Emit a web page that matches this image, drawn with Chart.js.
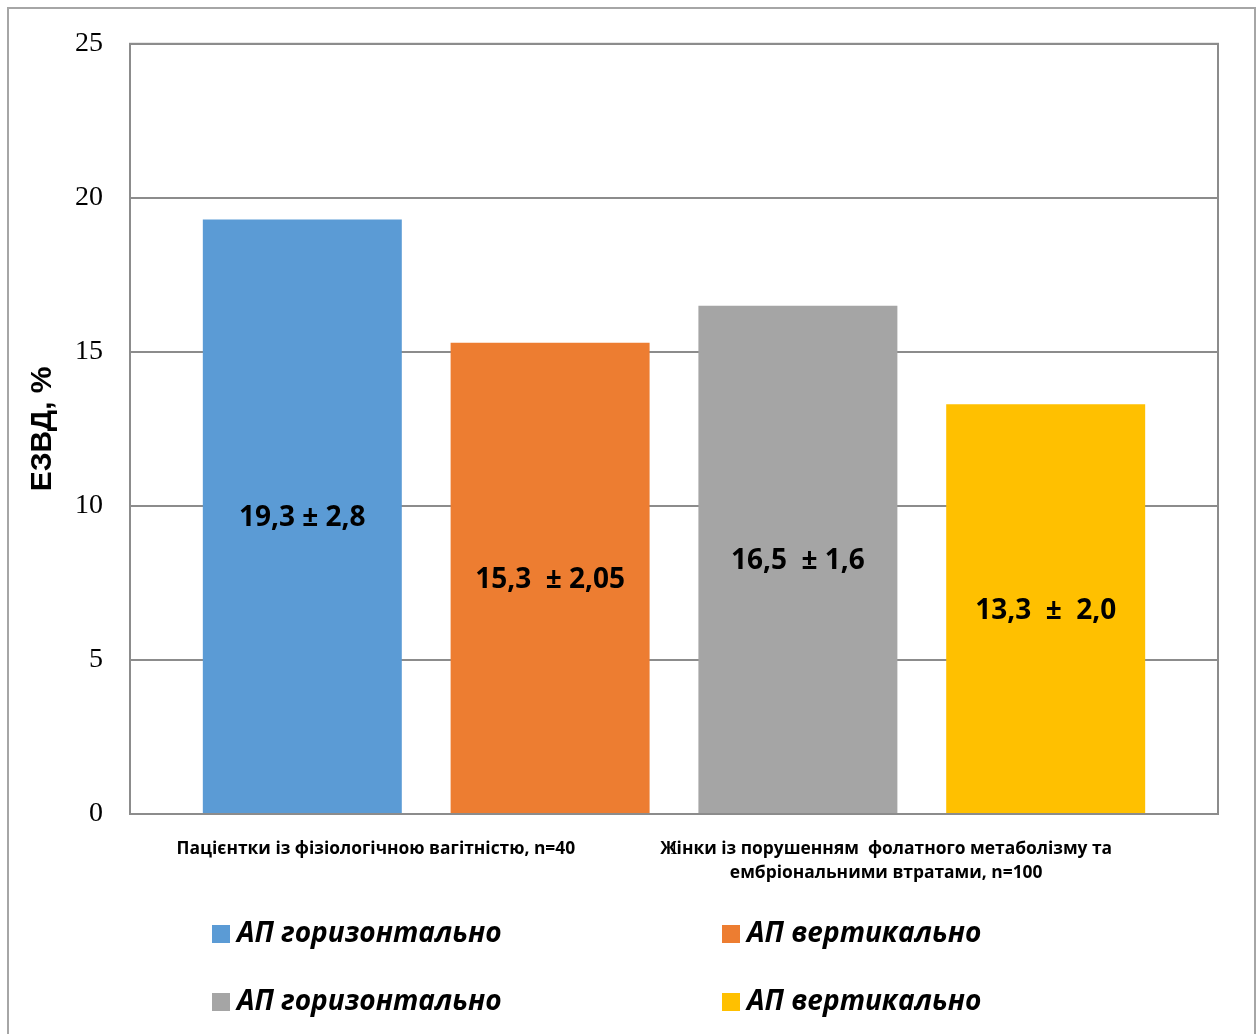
<!DOCTYPE html>
<html>
<head>
<meta charset="utf-8">
<script src="https://cdn.jsdelivr.net/npm/chart.js@4"></script>
<style>
  html, body { margin: 0; padding: 0; background: #fff; }
  #wrap { position: relative; width: 1260px; height: 1034px; overflow: hidden; }
  #frame { position: absolute; left: 7px; top: 7px; width: 1249px; height: 1040px; border: 2px solid #a6a6a6; box-sizing: border-box; }
  canvas { position: absolute; left: 0; top: 0; }
</style>
</head>
<body>
<div id="wrap">
  <div id="frame"></div>
  <canvas id="myChart" width="1260" height="1034"></canvas>
</div>
<script>
// data
var categories = ["1"];
var seriesNames = ["АП горизонтально", "АП вертикально", "АП горизонтально", "АП вертикально"];
var values = [19.3, 15.3, 16.5, 13.3];
var colors = ["#5B9BD5", "#ED7D31", "#A5A5A5", "#FFC000"];
var valueLabels = ["19,3 ± 2,8", "15,3  ± 2,05", "16,5  ± 1,6", "13,3  ±  2,0"];
var labelLevels = [9.6, 7.6, 8.2, 6.6];   // where the text boxes sit, in axis units
var yTicks = [0, 5, 10, 15, 20, 25];
var groupLabels = [
  ["Пацієнтки із фізіологічною вагітністю, n=40"],
  ["Жінки із порушенням  фолатного метаболізму та", "ембріональними втратами, n=100"]
];

var datasets = [];
for (var i = 0; i < values.length; i++) {
  datasets.push({
    label: seriesNames[i],
    data: [values[i]],
    backgroundColor: colors[i],
    borderWidth: 0
  });
}

var extras = {
  id: "extras",
  afterDraw: function (chart) {
    var ctx = chart.ctx;
    var area = chart.chartArea;
    var y = chart.scales.y;
    ctx.save();

    // plot area frame
    ctx.strokeStyle = "#8c8c8c";
    ctx.lineWidth = 2;
    ctx.strokeRect(area.left, area.top, area.right - area.left, area.bottom - area.top);

    // value text inside bars
    ctx.fillStyle = "#000";
    ctx.font = "bold 28px 'Open Sans'";
    ctx.textAlign = "center";
    ctx.textBaseline = "middle";
    for (var i = 0; i < valueLabels.length; i++) {
      var bar = chart.getDatasetMeta(i).data[0];
      ctx.fillText(valueLabels[i], bar.x, y.getPixelForValue(labelLevels[i]));
    }

    // group captions under the axis
    ctx.font = "bold 17.4px 'Open Sans'";
    var centers = [0.226, 0.695];
    for (var g = 0; g < groupLabels.length; g++) {
      var cx = area.left + (area.right - area.left) * centers[g];
      for (var l = 0; l < groupLabels[g].length; l++) {
        ctx.fillText(groupLabels[g][l], cx, area.bottom + 35 + l * 24);
      }
    }

    // legend, two columns
    var cols = [212, 722];
    var rows = [934, 1002];
    ctx.font = "italic bold 28px 'Open Sans'";
    ctx.textAlign = "left";
    for (var k = 0; k < chart.data.datasets.length; k++) {
      var ds = chart.data.datasets[k];
      var lx = cols[k % 2];
      var ly = rows[Math.floor(k / 2)];
      ctx.fillStyle = ds.backgroundColor;
      ctx.fillRect(lx, ly - 9, 18, 18);
      ctx.fillStyle = "#000";
      ctx.fillText(ds.label, lx + 25, ly);
    }
    ctx.restore();
  }
};

var ctx = document.getElementById("myChart");
var myChart = new Chart(ctx, {
  type: "bar",
  data: {
    labels: categories,
    datasets: datasets
  },
  options: {
    responsive: false,
    animation: false,
    categoryPercentage: 0.911,
    barPercentage: 0.803,
    layout: { padding: { top: 42, right: 42, left: 0, bottom: 0 } },
    plugins: {
      legend: { display: false },
      tooltip: { enabled: false }
    },
    scales: {
      y: {
        min: 0,
        max: 25,
        afterBuildTicks: function (scale) {
          scale.ticks = yTicks.map(function (v) { return { value: v }; });
        },
        afterFit: function (scale) { scale.width = 130; },
        ticks: {
          color: "#000",
          padding: 27,
          font: { family: "'Liberation Serif', serif", size: 28 }
        },
        grid: { color: "#8c8c8c", lineWidth: 2, drawTicks: false },
        border: { display: true, color: "#8c8c8c", width: 2 },
        title: {
          display: true,
          text: "ЕЗВД, %",
          color: "#000",
          font: { family: "'Liberation Sans', Arial, sans-serif", size: 30, weight: "bold" },
          padding: { top: 25, bottom: 0 }
        }
      },
      x: {
        afterFit: function (scale) { scale.height = 220; },
        ticks: {
          color: "#000",
          padding: 24,
          font: { family: "'Liberation Serif', serif", size: 19 }
        },
        grid: { display: false, drawTicks: false },
        border: { display: true, color: "#8c8c8c", width: 2 }
      }
    }
  },
  plugins: [extras]
});
</script>
</body>
</html>
